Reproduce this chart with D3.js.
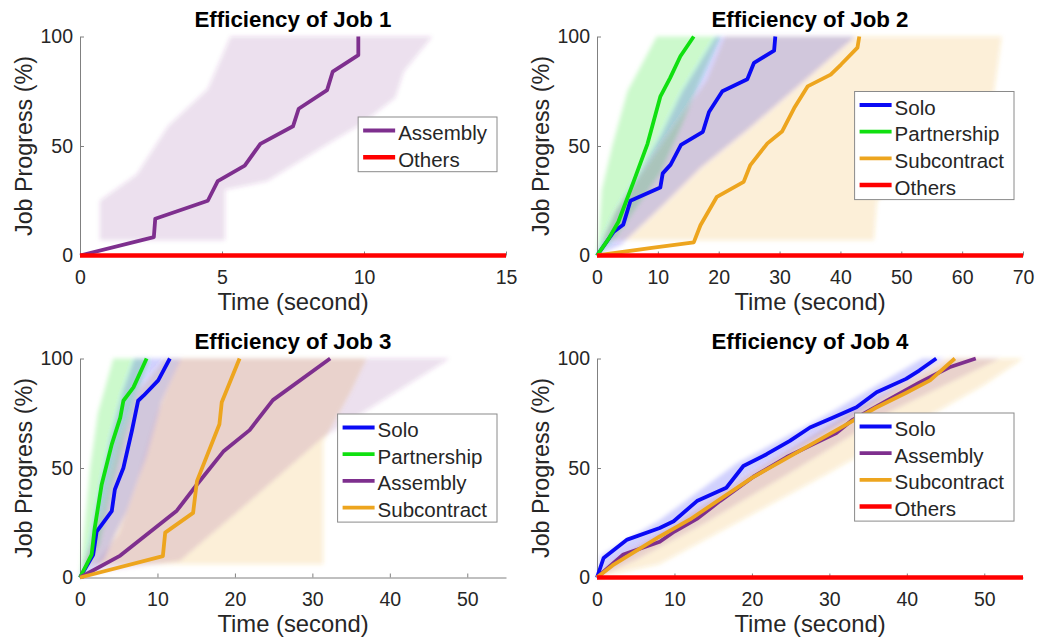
<!DOCTYPE html>
<html>
<head>
<meta charset="utf-8">
<script src="https://cdn.jsdelivr.net/npm/d3@7"></script>
<style>
  html, body { margin: 0; padding: 0; background: #fff; }
  svg { display: block; }
  text { font-family: "Liberation Sans", Arial, Helvetica, sans-serif; }
</style>
</head>
<body>
<svg id="chart" width="1040" height="643"></svg>
<script>
// ---- data: time (s) vs. job progress (%) ----
const jobTitles = ["Efficiency of Job 1", "Efficiency of Job 2", "Efficiency of Job 3", "Efficiency of Job 4"];
const xMaxByJob = [15, 70, 55, 55];
const xTicksJob1 = [0, 5, 10, 15];
const xTicksJob2 = [0, 10, 20, 30, 40, 50, 60, 70];
const xTicksJob3 = [0, 10, 20, 30, 40, 50];
const xTicksJob4 = [0, 10, 20, 30, 40, 50];
const yTicks = [0, 50, 100];

// mean progress curves, [time, progress]
const job1Assembly = [[0,0],[2.6,8.4],[2.65,16.8],[4.5,25],[4.85,34],[5.8,41],[6.35,51],[7.5,59],[7.7,67],[8.7,75.5],[8.9,84],[9.8,91.5],[9.8,100]];
const job1Others = [[0,0],[15,0]];

const job2Solo = [[0,0],[2.7,10.7],[4.3,14],[5.5,25],[10.4,31],[10.8,37.5],[12.1,41.5],[13.8,50.5],[17.4,56.5],[18.4,65.5],[20.6,75],[24.7,80.5],[25.8,88],[29.1,93.5],[29.3,100]];
const job2Partnership = [[0,0],[1.9,7.6],[3.5,15.3],[6,33.6],[8.3,51],[10.4,72.5],[12,81],[13.7,91],[15.9,100]];
const job2Subcontract = [[0,0],[9,3.5],[15.9,6],[17,13.8],[19.7,26.8],[24.1,33.6],[25.2,41.3],[28,51.2],[30.4,56.6],[32.4,67.3],[34.6,77.2],[38.4,82.6],[40.1,87.2],[42.8,94.9],[43.1,100]];
const job2Others = [[0,0],[70,0]];

const job3Solo = [[0,0],[1.7,10.4],[2.15,21],[4.1,30.3],[4.5,40.2],[5.6,50],[6.7,67],[7.5,80.7],[8.2,83],[10.1,90],[11.6,100]];
const job3Partnership = [[0,0],[1.5,10.4],[1.9,22.6],[2.8,42.5],[4.1,60.8],[5.2,73],[5.6,80.7],[6.9,86.8],[8.6,100]];
const job3Assembly = [[0,0],[5.2,10],[12.5,30.5],[15,42],[18.5,57.5],[21.9,67.3],[24.9,81],[32.3,100]];
const job3Subcontract = [[0,0],[10.7,9.8],[11,20.5],[14.6,29.5],[15.1,44],[18,70],[18.3,80],[20.6,100]];

const job4Solo = [[0,0],[0.85,8.9],[3.9,17.3],[8.1,22.6],[9.9,25.7],[12.9,34.9],[16.7,41],[18.9,50.9],[21.9,56.3],[24.9,62.4],[27.5,68.5],[30.5,73.1],[33.5,77.7],[36.1,84.6],[39.9,90.7],[41.6,94.5],[43.8,100]];
const job4Assembly = [[0,0],[3.4,10.5],[8.1,16.3],[10,21],[13,27],[15.9,35],[20.2,46],[24.5,55],[28,61],[30.9,66],[33,72],[37.3,80.5],[41.6,89],[45.5,96],[48.9,100]];
const job4Subcontract = [[0,0],[2,5.5],[5,12],[8,18.5],[12,26.5],[16,36],[20,45.5],[24,53.5],[28,61.5],[32,69.5],[36,77.5],[40,84.5],[43,90],[46.2,100]];
const job4Others = [[0,0],[55,0]];

// spread across runs: fastest and slowest [time, progress] boundaries
const job1AssemblyFast = [[0.7,7],[0.7,25],[2.0,37],[3.1,59],[4.5,76],[5.3,100]];
const job1AssemblySlow = [[5.1,7],[5.1,30],[6.6,34],[8.6,50],[9.9,60],[11.1,72],[11.4,84],[12.4,100]];

const job2PartnershipFast = [[0,0],[0.3,10],[0.8,30],[2.5,50],[5,75],[9.8,100]];
const job2PartnershipSlow = [[0,0],[3,8],[6,20],[10.5,38],[14,60],[17,80],[20.3,100]];
const job2SoloFast = [[0,0],[1,8],[3,20],[7,38],[10.5,55],[14,75],[19.5,100]];
const job2SoloSlow = [[0,0],[4,5],[10.5,22],[17,40],[25,58],[35,82],[42.5,100]];
const job2SubcontractFast = [[1,7],[3,20],[8,40],[13,60],[18,80],[21,100]];
const job2SubcontractSlow = [[45.5,7],[46,25],[55,45],[65,70],[66.5,100]];

const job3PartnershipFast = [[0,0],[0.5,20],[1.3,50],[2.3,75],[4.3,100]];
const job3PartnershipSlow = [[0,0],[2.5,15],[4,40],[5.8,65],[7.5,85],[9,100]];
const job3SoloFast = [[0,0],[1.2,15],[2.5,40],[4,65],[5.5,85],[7,100]];
const job3SoloSlow = [[0,0],[3,8],[6,30],[8.5,55],[10.5,80],[13,100]];
const job3AssemblyFast = [[0,0],[2,6],[5,20],[7.5,45],[10,75],[12.9,100]];
const job3AssemblySlow = [[3,3],[12.9,7.5],[22,35],[31.4,64],[40,83],[47.7,100]];
const job3SubcontractFast = [[0.5,6],[3,30],[5,60],[7.5,85],[11,100]];
const job3SubcontractSlow = [[31.4,6],[31.4,62],[35,85],[37,100]];

const job4SoloFast = [[0,0],[0.5,10],[8,26],[18,52],[30,75],[42,100]];
const job4SoloSlow = [[0,0],[2,6],[10,22],[20,47],[34,76],[45,100]];
const job4AssemblyFast = [[0,0],[2,8],[10,24],[20,48],[33,76],[46,100]];
const job4AssemblySlow = [[0,0],[5,8],[14,25],[25,48],[38,76],[52,100]];
const job4SubcontractFast = [[0,0],[1,5],[10,24],[20,48],[33,76],[45,100]];
const job4SubcontractSlow = [[0,0],[8,6],[18,25],[30,48],[42,72],[50,88],[55,100]];

// ---- styling ----
const colors = {
  Solo: "#0a0af5",
  Partnership: "#10e010",
  Assembly: "#7e2f8e",
  Subcontract: "#eda51e",
  Others: "#ff0000"
};
const bandOpacity = { Solo: 0.18, Partnership: 0.2, Assembly: 0.15, Subcontract: 0.18 };

const panels = [
  { col: 0, row: 0, xTicks: xTicksJob1, legendTop: 80.5,
    bands: [["Assembly", job1AssemblyFast, job1AssemblySlow]],
    lines: [["Assembly", job1Assembly], ["Others", job1Others]] },
  { col: 1, row: 0, xTicks: xTicksJob2, legendTop: 55,
    bands: [["Subcontract", job2SubcontractFast, job2SubcontractSlow],
            ["Partnership", job2PartnershipFast, job2PartnershipSlow],
            ["Solo", job2SoloFast, job2SoloSlow]],
    lines: [["Solo", job2Solo], ["Partnership", job2Partnership], ["Subcontract", job2Subcontract], ["Others", job2Others]] },
  { col: 0, row: 1, xTicks: xTicksJob3, legendTop: 55.5,
    bands: [["Subcontract", job3SubcontractFast, job3SubcontractSlow],
            ["Assembly", job3AssemblyFast, job3AssemblySlow],
            ["Partnership", job3PartnershipFast, job3PartnershipSlow],
            ["Solo", job3SoloFast, job3SoloSlow]],
    lines: [["Solo", job3Solo], ["Partnership", job3Partnership], ["Assembly", job3Assembly], ["Subcontract", job3Subcontract]] },
  { col: 1, row: 1, xTicks: xTicksJob4, legendTop: 54.5,
    bands: [["Subcontract", job4SubcontractFast, job4SubcontractSlow],
            ["Assembly", job4AssemblyFast, job4AssemblySlow],
            ["Solo", job4SoloFast, job4SoloSlow]],
    lines: [["Solo", job4Solo], ["Assembly", job4Assembly], ["Subcontract", job4Subcontract], ["Others", job4Others]] }
];

const axLeft = [80, 597], axTop = [36.5, 358.5];
const axW = 426, axH = 219;
const textColor = "#262626", axisColor = "#808080";

const svg = d3.select("#chart");
const defs = svg.append("defs");
defs.append("filter").attr("id", "soft")
  .attr("x", "-10%").attr("y", "-10%").attr("width", "120%").attr("height", "120%")
  .append("feGaussianBlur").attr("stdDeviation", 2.2);

panels.forEach((p, i) => {
  const left = axLeft[p.col], top = axTop[p.row];
  const x = d3.scaleLinear().domain([0, xMaxByJob[i]]).range([left, left + axW]);
  const y = d3.scaleLinear().domain([0, 100]).range([top + axH, top]);
  const g = svg.append("g");

  // spread bands
  const bandPath = d3.line().x(d => x(d[0])).y(d => y(d[1]));
  const bandG = g.append("g").attr("filter", "url(#soft)");
  p.bands.forEach(([name, fast, slow]) => {
    const poly = fast.concat(slow.slice().reverse());
    bandG.append("path")
      .attr("d", bandPath(poly) + "Z")
      .attr("fill", colors[name])
      .attr("fill-opacity", bandOpacity[name])
      .attr("stroke", "none");
  });

  // axes
  const yAxis = d3.axisLeft(y).tickValues(yTicks).tickSizeInner(-4).tickSizeOuter(0).tickPadding(7);
  const xAxis = d3.axisBottom(x).tickValues(p.xTicks).tickSizeInner(-4).tickSizeOuter(0).tickPadding(14.5);
  [g.append("g").attr("transform", `translate(${left},0)`).call(yAxis),
   g.append("g").attr("transform", `translate(0,${top + axH})`).call(xAxis)].forEach(a => {
    a.select(".domain").attr("stroke", axisColor).attr("stroke-width", 1);
    a.selectAll(".tick line").attr("stroke", axisColor);
    a.selectAll(".tick text").attr("fill", textColor).style("font-size", "19.5px")
      .style("font-family", "'Liberation Sans', Arial, sans-serif");
  });

  // mean curves
  const linePath = d3.line().x(d => x(d[0])).y(d => y(d[1]));
  p.lines.forEach(([name, pts]) => {
    g.append("path")
      .attr("d", linePath(pts))
      .attr("fill", "none")
      .attr("stroke", colors[name])
      .attr("stroke-width", name === "Others" ? 4.5 : 3.8)
      .attr("stroke-linejoin", "round");
  });

  // title and axis labels
  g.append("text").attr("x", left + axW / 2).attr("y", top - 10)
    .attr("text-anchor", "middle").attr("font-weight", "bold")
    .style("font-size", "22.3px").attr("fill", "#000").text(jobTitles[i]);
  g.append("text").attr("x", left + axW / 2).attr("y", top + axH + 54)
    .attr("text-anchor", "middle").style("font-size", "23.8px")
    .attr("fill", textColor).text("Time (second)");
  g.append("text")
    .attr("transform", `translate(${left - 48},${top + axH / 2}) rotate(-90)`)
    .attr("text-anchor", "middle").style("font-size", "23.3px")
    .attr("fill", textColor).text("Job Progress (%)");

  // legend
  const rowH = 26.7, padTop = 13.5, padBottom = 14.5;
  const lg = g.append("g");
  const box = lg.append("rect").attr("fill", "#fff").attr("stroke", "#8a8a8a").attr("stroke-width", 1);
  const items = lg.selectAll("g.item").data(p.lines).join("g").attr("class", "item");
  items.append("line")
    .attr("x1", 5).attr("x2", 37)
    .attr("y1", (d, k) => padTop + k * rowH).attr("y2", (d, k) => padTop + k * rowH)
    .attr("stroke", d => colors[d[0]])
    .attr("stroke-width", d => d[0] === "Others" ? 4.5 : 3.8);
  items.append("text")
    .attr("x", 40).attr("y", (d, k) => padTop + k * rowH + 9.5)
    .style("font-size", "20.5px").attr("fill", textColor)
    .text(d => d[0]);
  let maxW = 0;
  items.selectAll("text").each(function () { maxW = Math.max(maxW, this.getComputedTextLength()); });
  const lw = 40 + maxW + 10;
  const lh = padTop + (p.lines.length - 1) * rowH + padBottom;
  box.attr("x", 0).attr("y", 0).attr("width", lw).attr("height", lh);
  lg.attr("transform", `translate(${left + 417 - lw},${top + p.legendTop})`);
});
</script>
</body>
</html>
